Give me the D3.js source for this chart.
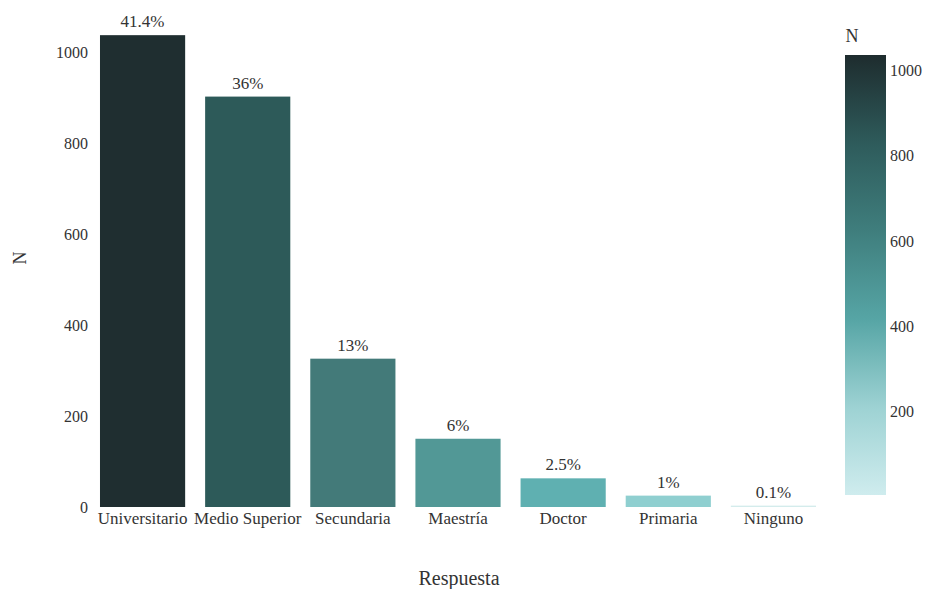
<!DOCTYPE html>
<html>
<head>
<meta charset="utf-8">
<script src="https://cdn.jsdelivr.net/npm/d3@7"></script>
<style>
  html, body { margin: 0; padding: 0; background: #ffffff; }
  svg text { font-family: "Liberation Serif", "DejaVu Serif", serif; fill: #333; }
</style>
</head>
<body>
<svg id="chart" width="926" height="589"></svg>
<script>
const categories = ["Universitario", "Medio Superior", "Secundaria", "Maestría", "Doctor", "Primaria", "Ninguno"];
const counts = [1037, 902, 326, 150, 63, 25, 3];
const percentLabels = ["41.4%", "36%", "13%", "6%", "2.5%", "1%", "0.1%"];
const yTicks = [0, 200, 400, 600, 800, 1000];
const legendTicks = [200, 400, 600, 800, 1000];

const barPalette = ["#1f2e30", "#2d5a59", "#437a79", "#529896", "#5fb0b1", "#8fcfd0", "#d4ecec"];
const gradStops = ["#cfecee", "#9dd2d3", "#56a5a5", "#3f7e7d", "#2e5b5b", "#1e2c2e"];

const svg = d3.select("#chart");
const m = { left: 90, right: 826, top: 52, bottom: 507 };

const x = d3.scaleBand().domain(categories).range([m.left, m.right]).paddingInner(0.19).paddingOuter(0.095);
const y = d3.scaleLinear().domain([0, 1000]).range([m.bottom, m.top]);
const color = d3.scaleOrdinal().domain(categories).range(barPalette);

// bars
svg.append("g").selectAll("rect").data(categories).join("rect")
  .attr("x", d => x(d))
  .attr("width", x.bandwidth())
  .attr("y", (d, i) => y(counts[i]))
  .attr("height", (d, i) => Math.max(1, y(0) - y(counts[i])))
  .attr("fill", d => color(d));

// value labels
svg.append("g").selectAll("text").data(categories).join("text")
  .attr("x", d => x(d) + x.bandwidth() / 2)
  .attr("y", (d, i) => y(counts[i]) - 8)
  .attr("text-anchor", "middle")
  .attr("font-size", 17)
  .text((d, i) => percentLabels[i]);

// y axis
const yAxis = svg.append("g").attr("transform", `translate(${m.left},0)`)
  .call(d3.axisLeft(y).tickValues(yTicks).tickFormat(d3.format("d")).tickSize(0).tickPadding(2));
yAxis.select(".domain").remove();
yAxis.selectAll("text").attr("font-size", 16).style("font-family", "Liberation Serif, serif").attr("fill", "#333");

// x axis
const xAxis = svg.append("g").attr("transform", `translate(0,${m.bottom})`)
  .call(d3.axisBottom(x).tickSize(0).tickPadding(5));
xAxis.select(".domain").remove();
xAxis.selectAll("text").attr("font-size", 17).style("font-family", "Liberation Serif, serif").attr("fill", "#333");

// axis titles
svg.append("text").attr("x", 459).attr("y", 585).attr("text-anchor", "middle")
  .attr("font-size", 20).text("Respuesta");
svg.append("text").attr("transform", "translate(26,258) rotate(-90)").attr("text-anchor", "middle")
  .attr("font-size", 18).text("N");

// legend colorbar
const lx = 845, lw = 41, ltop = 55, lbot = 495;
const ly = d3.scaleLinear().domain([d3.min(counts), d3.max(counts)]).range([lbot, ltop]);
const defs = svg.append("defs");
const grad = defs.append("linearGradient").attr("id", "cb").attr("x1", 0).attr("y1", 1).attr("x2", 0).attr("y2", 0);
gradStops.forEach((c, i) => grad.append("stop").attr("offset", i / (gradStops.length - 1)).attr("stop-color", c));
svg.append("rect").attr("x", lx).attr("y", ltop).attr("width", lw).attr("height", lbot - ltop).attr("fill", "url(#cb)");
svg.append("g").selectAll("text").data(legendTicks).join("text")
  .attr("x", lx + lw + 4).attr("y", d => ly(d)).attr("dy", "0.35em")
  .attr("font-size", 16).text(d => d);
svg.append("text").attr("x", lx + 7).attr("y", 42).attr("text-anchor", "middle")
  .attr("font-size", 18).text("N");
</script>
</body>
</html>
